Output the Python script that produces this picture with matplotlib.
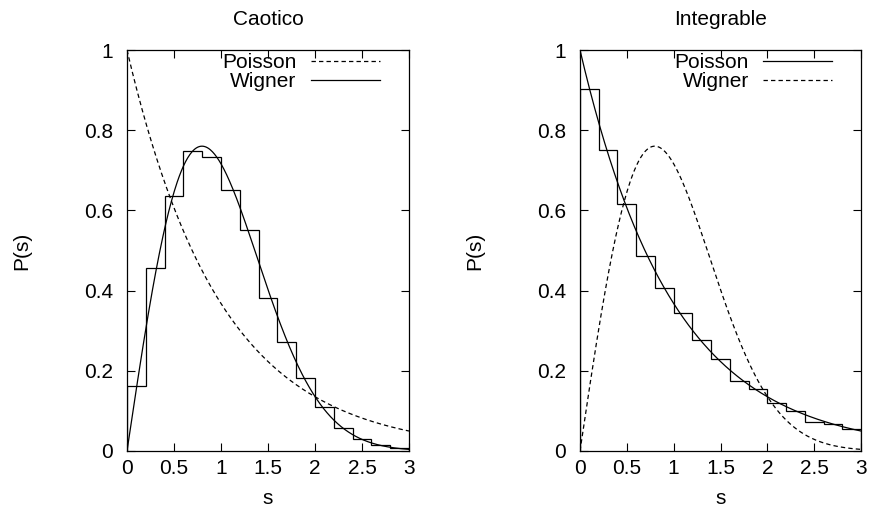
import numpy as np
import matplotlib
matplotlib.use('Agg')
import matplotlib.pyplot as plt

plt.rcParams['font.family'] = ['Liberation Sans', 'DejaVu Sans']
plt.rcParams['font.size'] = 15

# histogram bins (width 0.2) and bar heights
bin_edges = [0.0, 0.2, 0.4, 0.6, 0.8, 1.0, 1.2, 1.4, 1.6, 1.8,
             2.0, 2.2, 2.4, 2.6, 2.8, 3.0]
caotico_hist = [0.163, 0.456, 0.636, 0.749, 0.733, 0.650, 0.551, 0.382,
                0.271, 0.181, 0.110, 0.058, 0.031, 0.015, 0.008]
integrable_hist = [0.903, 0.751, 0.617, 0.486, 0.406, 0.344, 0.277, 0.230,
                   0.175, 0.155, 0.119, 0.100, 0.072, 0.067, 0.055]

titles = ['Caotico', 'Integrable']
x_ticks = [0, 0.5, 1, 1.5, 2, 2.5, 3]
x_ticklabels = ['0', '0.5', '1', '1.5', '2', '2.5', '3']
y_ticks = [0, 0.2, 0.4, 0.6, 0.8, 1]
y_ticklabels = ['0', '0.2', '0.4', '0.6', '0.8', '1']


def poisson(s):
    return np.exp(-s)


def wigner(s):
    return np.pi / 2 * s * np.exp(-np.pi * s ** 2 / 4)


s = np.linspace(0, 3, 400)
dash = (0, (3.5, 2.5))

fig = plt.figure(figsize=(8.72, 5.16), dpi=100)
ax1 = fig.add_axes([127 / 872, 65 / 516, 282 / 872, 401 / 516])
ax2 = fig.add_axes([580 / 872, 65 / 516, 281 / 872, 401 / 516])

# (axes, histogram, Poisson style, Wigner style, title)
panels = [
    (ax1, caotico_hist, dash, '-', titles[0]),
    (ax2, integrable_hist, '-', dash, titles[1]),
]

for ax, hist, ls_poisson, ls_wigner, title in panels:
    ax.stairs(hist, bin_edges, color='black', lw=0.9, baseline=0)
    ax.plot(s, poisson(s), color='black', lw=0.9, linestyle=ls_poisson, label='Poisson')
    ax.plot(s, wigner(s), color='black', lw=0.9, linestyle=ls_wigner, label='Wigner')

    ax.set_xlim(0, 3)
    ax.set_ylim(0, 1)
    ax.set_xticks(x_ticks)
    ax.set_xticklabels(x_ticklabels)
    ax.set_yticks(y_ticks)
    ax.set_yticklabels(y_ticklabels)
    ax.tick_params(direction='in', top=True, right=True, length=6, width=0.8)
    ax.tick_params(axis='x', pad=6)
    ax.tick_params(axis='y', pad=10)
    for sp in ax.spines.values():
        sp.set_linewidth(0.9)

    ax.set_title(title, pad=18, fontsize=15)
    ax.set_xlabel('s')
    ax.set_ylabel('P(s)')
    ax.xaxis.set_label_coords(0.5, -0.095)
    ax.yaxis.set_label_coords(-0.34, 0.5)

    ax.legend(loc='upper right', bbox_to_anchor=(1 - 29 / 281, 1 - 3 / 401),
              frameon=False, markerfirst=False, borderpad=0, borderaxespad=0,
              handlelength=3.3, handletextpad=0.7, labelspacing=0.0)

fig.savefig('out.png', dpi=100)
plt.close(fig)
